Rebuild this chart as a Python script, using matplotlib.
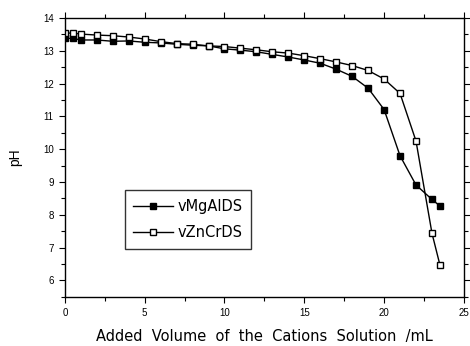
import matplotlib
matplotlib.use("Agg")
import matplotlib.pyplot as plt
from matplotlib.ticker import MultipleLocator

# volume added (mL)
vol = [0, 0.5, 1, 2, 3, 4, 5, 6, 7, 8, 9, 10, 11, 12, 13, 14, 15, 16, 17, 18,
       19, 20, 21, 22, 23, 23.5]

ph_mgal = [13.38, 13.38, 13.33, 13.33, 13.29, 13.3, 13.26, 13.24, 13.2, 13.17,
           13.15, 13.06, 13.02, 12.97, 12.89, 12.81, 12.72, 12.62, 12.44, 12.22,
           11.86, 11.21, 9.8, 8.91, 8.47, 8.27]

ph_zncr = [13.54, 13.54, 13.51, 13.48, 13.46, 13.42, 13.36, 13.28, 13.22, 13.2,
           13.15, 13.13, 13.08, 13.03, 12.97, 12.93, 12.85, 12.76, 12.66, 12.55,
           12.4, 12.14, 11.7, 10.25, 7.44, 6.47]

plt.rcParams['font.family'] = ['Liberation Sans', 'DejaVu Sans']

fig = plt.figure(figsize=(4.7, 3.46), dpi=100)
ax = fig.add_axes([0.138, 0.142, 0.849, 0.806])

ax.plot(vol, ph_mgal, color='black', lw=1, marker='s', ms=4.8,
        mfc='black', mec='black', label='vMgAlDS')
ax.plot(vol, ph_zncr, color='black', lw=1, marker='s', ms=4.8,
        mfc='white', mec='black', mew=1, label='vZnCrDS')

ax.set_xlim(0, 25)
ax.set_ylim(5.5, 14)
ax.xaxis.set_major_locator(MultipleLocator(5))
ax.xaxis.set_minor_locator(MultipleLocator(2.5))
ax.yaxis.set_major_locator(MultipleLocator(1))
ax.yaxis.set_minor_locator(MultipleLocator(0.5))

ax.tick_params(which='both', direction='out', right=True,
               labelsize=7, width=0.8)
ax.tick_params(axis='x', which='both', top=True, direction='in')
ax.tick_params(axis='x', which='both', bottom=True, direction='out')
ax.tick_params(which='major', length=4.5)
ax.tick_params(which='minor', length=3)
for sp in ax.spines.values():
    sp.set_linewidth(1)

ax.set_xlabel('Added  Volume  of  the  Cations  Solution  /mL', fontsize=10.5,
              family='DejaVu Sans', labelpad=8)
ax.set_ylabel('pH', fontsize=10, labelpad=15)

leg = ax.legend(loc='lower left', bbox_to_anchor=(0.15, 0.172),
                prop={'family': 'DejaVu Sans', 'size': 10.5},
                frameon=True, fancybox=False, edgecolor='black',
                borderaxespad=0, handlelength=2.7, borderpad=0.6,
                labelspacing=0.75, handletextpad=0.3)
leg.get_frame().set_linewidth(1)

fig.savefig('out.png', dpi=100)
